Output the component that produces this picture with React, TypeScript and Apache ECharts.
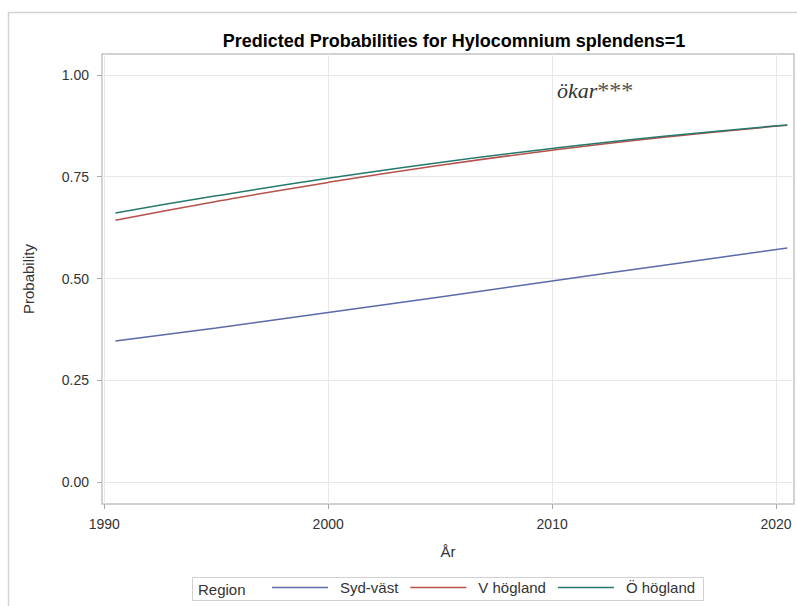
import React, { useEffect, useRef } from "react";
import * as echarts from "echarts";

const titleText = "Predicted Probabilities for Hylocomnium splendens=1";
const regions = ["Syd-väst", "V högland", "Ö högland"];
const years = [1990.5, 1995, 2000, 2005, 2010, 2015, 2020.5];
const sydVast = [0.347, 0.379, 0.417, 0.455, 0.494, 0.533, 0.575];
const vHogland = [0.643, 0.689, 0.736, 0.778, 0.815, 0.847, 0.876];
const oHogland = [0.661, 0.703, 0.746, 0.785, 0.819, 0.849, 0.877];
const xTicks = [1990, 2000, 2010, 2020];
const yTicks = [0, 0.25, 0.5, 0.75, 1.0];
const colors = ["#5d6aa8", "#b5524a", "#25786e"];

export default function App() {
  const ref = useRef<HTMLDivElement>(null);
  useEffect(() => {
    if (!ref.current) return;
    const chart = echarts.init(ref.current, undefined, { renderer: "svg" });
    const font = "'Liberation Sans', Arial, sans-serif";
    const seriesVals = [sydVast, vHogland, oHogland];
    chart.setOption({
      animation: false,
      backgroundColor: "#ffffff",
      textStyle: { fontFamily: font },
      title: {
        text: titleText,
        left: 449,
        textAlign: "center",
        top: 27,
        textStyle: { fontSize: 18, fontWeight: "bold", color: "#000", fontFamily: font },
      },
      grid: {
        left: 102,
        top: 54,
        right: 3,
        bottom: 102,
        show: true,
        borderColor: "#c4c4c4",
        borderWidth: 1.5,
        containLabel: false,
      },
      xAxis: {
        type: "value",
        min: 1989.9,
        max: 2020.8,
        name: "År",
        nameLocation: "middle",
        nameGap: 40,
        nameTextStyle: { fontSize: 15, color: "#333", fontFamily: font },
        axisLine: { show: false, onZero: false },
        axisTick: { show: true, length: 5, lineStyle: { color: "#aaa" }, customValues: xTicks },
        axisLabel: {
          customValues: xTicks,
          fontSize: 14,
          color: "#333",
          margin: 13,
          formatter: (v: number) => String(Math.round(v)),
        },
        splitLine: { show: true, lineStyle: { color: "#e8e8e8", width: 1 } },
      },
      yAxis: {
        type: "value",
        min: -0.053,
        max: 1.051,
        name: "Probability",
        nameLocation: "middle",
        nameGap: 66,
        nameRotate: 90,
        nameTextStyle: { fontSize: 15, color: "#333", fontFamily: font },
        axisLine: { show: false, onZero: false },
        axisTick: { show: true, length: 5, lineStyle: { color: "#aaa" }, customValues: yTicks },
        axisLabel: {
          customValues: yTicks,
          fontSize: 14,
          color: "#333",
          margin: 13,
          formatter: (v: number) => v.toFixed(2),
        },
        splitLine: { show: true, lineStyle: { color: "#e8e8e8", width: 1 } },
      },
      legend: {
        show: true,
        left: 272,
        top: 580,
        padding: 0,
        itemGap: 12,
        itemWidth: 56,
        itemHeight: 1.5,
        icon: "rect",
        data: regions,
        textStyle: { fontSize: 15, color: "#333", padding: [0, 0, 0, 7], fontFamily: font },
      },
      graphic: [
        {
          type: "rect",
          shape: { x: 8.5, y: 12.5, width: 800, height: 620 },
          style: { fill: "none", stroke: "#d4d4d4", lineWidth: 1.5 },
          silent: true,
          z: -1,
        },
        {
          type: "rect",
          shape: { x: 192.5, y: 577.5, width: 511, height: 23 },
          style: { fill: "none", stroke: "#d0d0d0", lineWidth: 1 },
          silent: true,
        },
        {
          type: "text",
          x: 198,
          y: 589,
          style: {
            text: "Region",
            fontSize: 15,
            fill: "#333",
            fontFamily: font,
            verticalAlign: "middle",
          },
          silent: true,
        },
        {
          type: "text",
          x: 557,
          y: 90,
          style: {
            text: "{a|ökar}{b|***}",
            verticalAlign: "middle",
            rich: {
              a: { fontSize: 22, fontStyle: "italic", fontFamily: "'Liberation Serif', serif", fill: "#333" },
              b: { fontSize: 24, fontFamily: "'Liberation Serif', serif", fill: "#555" },
            },
          },
          silent: true,
        },
      ],
      series: regions.map((name, i) => ({
        name,
        type: "line",
        data: years.map((y, j) => [y, seriesVals[i][j]]),
        smooth: true,
        symbol: "none",
        showSymbol: false,
        lineStyle: { color: colors[i], width: 1.5 },
        itemStyle: { color: colors[i] },
      })),
    });
    return () => chart.dispose();
  }, []);
  return (
    <div
      ref={ref}
      style={{ position: "fixed", left: 0, top: 0, width: 797, height: 606 }}
    />
  );
}
